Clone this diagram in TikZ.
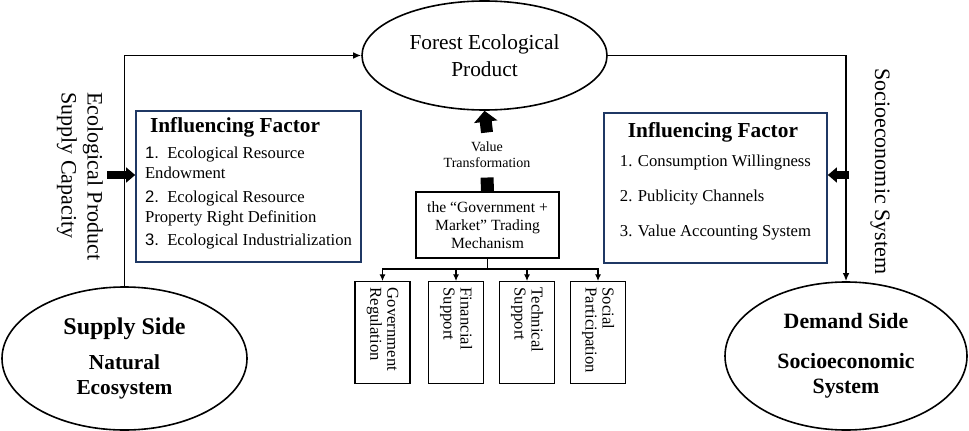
\documentclass[tikz,border=0pt]{standalone}
\usepackage{fontspec}
\setmainfont{Liberation Serif}
\setsansfont{Liberation Sans}
\usepackage{xcolor}
\usepackage{tikz}
\usetikzlibrary{shapes,arrows,positioning,calc,arrows.meta}

\definecolor{boxnavy}{RGB}{31,56,100}

\begin{document}
\begin{tikzpicture}[x=0.75pt, y=-0.75pt,
    oval/.style={draw, ellipse, line width=1.2pt, inner sep=0pt, align=center},
    factorbox/.style={draw=boxnavy, line width=1.2pt, align=left, inner sep=0pt,
        font=\fontsize{12.5}{15}\selectfont},
    subbox/.style={draw, line width=1pt, rotate=-90, anchor=west, inner xsep=4.5pt,
        minimum width=76.5pt, minimum height=41.25pt, text width=67.5pt, align=left,
        font=\fontsize{12.5}{12.75}\selectfont},
    link/.style={line width=1.2pt, -{Latex[length=6pt,width=5pt]}},
    branch/.style={line width=0.8pt, -{Latex[length=5pt,width=4.5pt]}},
    fatarrow/.style={line width=6pt, -{Triangle[length=6.75pt,width=11pt]}}]

    \useasboundingbox (0,0) rectangle (969,431);

    % Draw the three ellipses
    \node [oval, minimum width=183.75pt, minimum height=81.75pt,
        font=\fontsize{16}{20}\selectfont] (forest) at (484.5,55.5)
        {Forest Ecological\\Product};
    \node [oval, minimum width=183.75pt, minimum height=107.25pt,
        font=\bfseries\fontsize{16}{19}\selectfont] (supply) at (124.5,358.5)
        {{\fontsize{18}{19}\selectfont Supply Side}\\[7pt]Natural\\Ecosystem};
    \node [oval, minimum width=181.5pt, minimum height=111pt,
        font=\bfseries\fontsize{16.4}{19}\selectfont] (demand) at (846,356)
        {Demand Side\\[11pt]Socioeconomic\\System};

    % Influencing factor boxes
    \node [factorbox, minimum width=168.75pt, minimum height=113.25pt] (lfactor) at (248.5,186.5)
        {\hspace*{3.75pt}{\bfseries\fontsize{16}{15}\selectfont Influencing Factor}\\[4.5pt]
         {\sffamily 1.}\ \ Ecological Resource\\
         Endowment\\[3pt]
         {\sffamily 2.}\ \ Ecological Resource\\
         Property Right Definition\\[2.25pt]
         {\sffamily 3.}\ \ Ecological Industrialization\rule[-7.5pt]{0pt}{0pt}};
    \node [factorbox, minimum width=167.25pt, minimum height=112.5pt] (rfactor) at (715.5,188)
        {\hspace*{6pt}{\bfseries\fontsize{16}{15}\selectfont Influencing Factor}\\[6.75pt]
         1. Consumption Willingness\hspace*{7.5pt}\\[11.25pt]
         2. Publicity Channels\\[11.25pt]
         3. Value Accounting System\rule[-12.75pt]{0pt}{0pt}};

    % Side labels
    \node [rotate=-90, anchor=west, align=left, inner sep=0pt,
        font=\fontsize{16.5}{19.5}\selectfont] (supcap) at (80,92)
        {Ecological Product\\Supply Capacity};
    \node [rotate=-90, anchor=west, inner sep=0pt,
        font=\fontsize{16.5}{19.5}\selectfont] (socsys) at (880,68)
        {Socioeconomic System};

    % Outer loop
    \draw [link] (supply.north) |- (forest.west);
    \draw [link] (forest.east) -| (demand.north);

    % Thick arrows into the factor boxes
    \coordinate (ltail) at (107,175);
    \coordinate (rtail) at (849,175);
    \draw [fatarrow] (ltail) -- (ltail -| lfactor.west);
    \draw [fatarrow] (rtail) -- (rtail -| rfactor.east);

    % Trading mechanism and value transformation
    \node [draw, line width=1.2pt, align=center, minimum width=107.25pt, minimum height=49.5pt,
        font=\fontsize{11.7}{13.5}\selectfont] (mech) at (487.5,225)
        {the “Government +\\Market” Trading\\Mechanism};
    \node [align=center, inner sep=7pt, font=\fontsize{10.5}{12}\selectfont] (vt) at (487,155)
        {Value\\Transformation};
    \draw [line width=9pt, -{Triangle[length=8.25pt,width=17.25pt]}] (vt.north) -- (forest.south);
    \draw [line width=9.75pt] (mech.north) -- (vt.south);

    % Support boxes
    \coordinate (split) at (487.5,269);
    \draw [line width=0.8pt] (mech.south) -- (split);
    \foreach \x/\name/\txt in {382.5/govreg/{Government\\Regulation},
                               456/finsup/{Financial\\Support},
                               527/techsup/{Technical\\Support},
                               598/socpar/{Social\\Participation}} {
        \node [subbox] (\name) at (\x,281) {\txt};
        \draw [branch] (split) -| (\name.west);
    }
\end{tikzpicture}
\end{document}
